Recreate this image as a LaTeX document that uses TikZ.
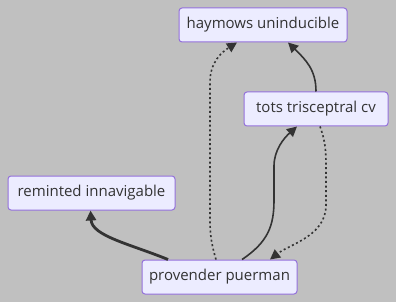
\documentclass[tikz,border=0pt]{standalone}
\usepackage{fontspec}
\setmainfont{Open Sans}
\usetikzlibrary{arrows.meta}
\definecolor{bg}{HTML}{C0C0C0}
\definecolor{boxfill}{HTML}{ECECFF}
\definecolor{boxline}{HTML}{9370DB}
\definecolor{ink}{HTML}{333333}
\tikzset{
	box/.style={draw=boxline,fill=boxfill,line width=1pt,rounded corners=3pt,
		minimum height=34pt,inner sep=0pt,text=ink,font=\fontsize{15}{18}\selectfont},
	link/.style={draw=ink,line width=1.6pt,-{Triangle[length=10pt,width=10pt]}},
	dots/.style={link,dash pattern=on 2pt off 2.6pt}
}
\begin{document}
\begin{tikzpicture}[line cap=butt,line join=round,x=1pt,y=-1pt]
				\fill[bg] (0,0) rectangle (396,302);
				\useasboundingbox (0,0) rectangle (396,302);
				\node[box,minimum width=168pt] (hay) at (263,25) {haymows uninducible};
				\node[box,minimum width=144pt] (tots) at (316,109) {tots trisceptral cv};
				\node[box,minimum width=167pt] (remi) at (91.5,193) {reminted innavigable};
				\node[box,minimum width=155pt] (prov) at (219.5,277) {provender puerman};
				\draw [link,line width=2.8pt] ([xshift=-51.5pt]prov.north) .. controls (130,244) and (92,236) .. ([xshift=-1pt]remi.south);
				\draw [link] ([xshift=22.5pt]prov.north) .. controls (268,242) and (274,226) .. (274,200) -- (274,166) .. controls (274,150) and (284,138) .. ([xshift=-19pt]tots.south);
				\draw [dots] ([xshift=-3.5pt]prov.north) .. controls (212,246) and (210,236) .. (210,220) -- (210,82) .. controls (210,62) and (222,52) .. ([xshift=-26pt]hay.south);
				\draw [dots] ([xshift=4pt]tots.south) .. controls (325,140) and (326,150) .. (326,165) -- (326,205) .. controls (326,236) and (290,244) .. ([xshift=50.5pt]prov.north);
				\draw [link] (tots.north) .. controls (316,70) and (306,60) .. ([xshift=25pt]hay.south);
			\end{tikzpicture}
\end{document}
